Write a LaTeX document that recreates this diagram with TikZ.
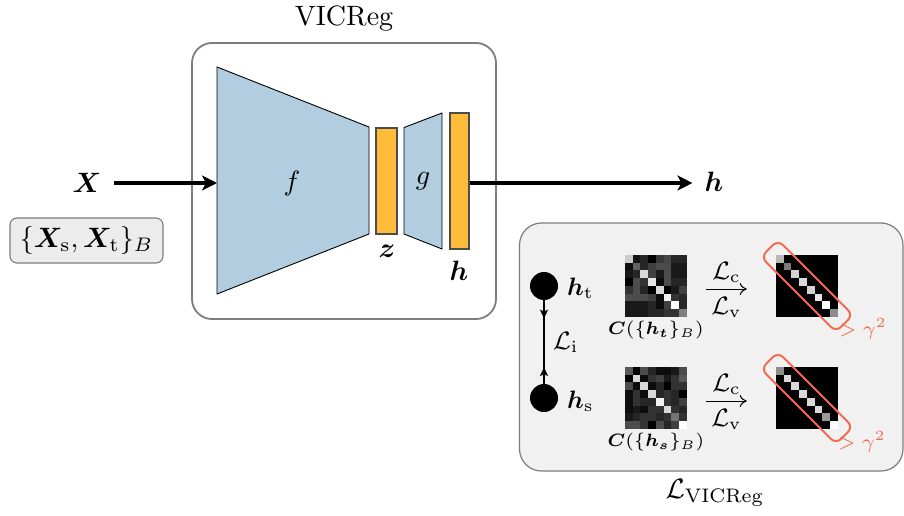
\RequirePackage{fix-cm}
\documentclass[tikz,border=0pt]{standalone}
\usepackage{amsmath,bm,graphicx}
\usetikzlibrary{arrows.meta,decorations.markings}

\definecolor{netblue}{RGB}{179,205,224}
\definecolor{featyellow}{RGB}{254,188,58}
\definecolor{framegray}{RGB}{125,125,125}
\definecolor{lossbg}{RGB}{241,241,241}
\definecolor{setbg}{RGB}{236,236,236}
\definecolor{hinge}{RGB}{242,108,80}

% text set at a base size and magnified with the drawing
\newcommand\sx[2][10]{\scalebox{2.8}{\fontsize{#1}{#1}\selectfont #2}}

% 8x8 grey-level matrix: #1 = top-left corner, #2 = rows of white percentages
\newcommand\graymatrix[2]{%
  \begin{scope}[shift={(#1)}]
    \foreach \row [count=\r from 0] in {#2} {
      \foreach \v [count=\c from 0] in \row {
        \fill[white!\v!black] (\c*7.75,\r*7.75) rectangle ++(7.8,7.8);
      }
    }
  \end{scope}}

\begin{document}
\begin{tikzpicture}[x=1pt,y=-1pt,
  every node/.style={inner sep=0},
  frame/.style={draw=framegray,line width=1.8},
  net/.style={draw=black,fill=netblue,line width=0.9},
  feat/.style={draw=black!70,fill=featyellow,line width=1.1,minimum width=#1},
  flow/.style={line width=3.2,-{Stealth[length=15,width=15,inset=4]}},
  mat/.style={minimum size=62},
  dot/.style={circle,fill=black,minimum size=28},
  hingebox/.style={draw=hinge,line width=2,rounded corners=7,rotate=-45,
    minimum width=106,minimum height=24},
  mapto/.style={line width=1,-{To[length=7,width=12]}},
  idlink/.style={line width=1.3,decoration={markings,
      mark=at position 0.22 with {\arrow{Stealth[length=9,width=8,inset=2]}},
      mark=at position 0.80 with {\arrowreversed{Stealth[length=9,width=8,inset=2]}}},
    postaction={decorate}}]

\useasboundingbox (0,0) rectangle (904,516);

% ---------------- encoder / projector ----------------
\draw[frame,rounded corners=20] (192,43) rectangle (496,319);
\node (title) at (344,19) {\sx{VICReg}};

\draw[net] (217,67) -- (369,127) -- (369,234) -- (217,294) -- cycle;
\coordinate (fin) at (217,183);
\node (flab) at (292,183) {\sx{$f$}};

\node[feat=21,minimum height=106] (zbar) at (386.5,181) {};
\node (zlab) at (387,251) {\sx{$\bm{z}$}};

\draw[net] (404,127.5) -- (442,113) -- (442,249) -- (404,234) -- cycle;
\node (glab) at (423,181) {\sx{$g$}};

\node[feat=19,minimum height=136] (hbar) at (459.5,181) {};
\node (hblab) at (459,271) {\sx{$\bm{h}$}};

\node (X) at (87,183) {\sx{$\bm{X}$}};
\node (hout) at (714,182) {\sx{$\bm{h}$}};
\draw[flow] (X.east) ++(12,0) -- (fin);
\draw[flow] (hbar.east |- fin) -- ([xshift=-12]hout.west |- fin);

\node[draw=framegray,fill=setbg,line width=1.1,rounded corners=7,
  minimum width=153,minimum height=45] (set) at (86.5,240.5)
  {\sx{$\{\bm{X}_\mathrm{s},\bm{X}_\mathrm{t}\}_B$}};

% ---------------- loss ----------------
\draw[draw=framegray,fill=lossbg,line width=1.2,rounded corners=22]
  (519.5,223) rectangle (903,471);
\node (losslab) at (715,493) {\sx{$\mathcal{L}_\mathrm{VICReg}$}};

\node[dot] (ht) at (544,286) {};
\node[dot] (hs) at (544,398) {};
\node[anchor=west] (htlab) at (567,288) {\sx[9]{$\bm{h}_\mathrm{t}$}};
\node[anchor=west] (hslab) at (567,401) {\sx[9]{$\bm{h}_\mathrm{s}$}};
\draw[idlink] (ht.south) -- (hs.north);
\node[anchor=west] (Li) at (553,342) {\sx[9]{$\mathcal{L}_\mathrm{i}$}};

% correlation matrices
\node[mat] (ct) at (656,286) {};
\node[mat] (cs) at (656,398) {};
\node[mat] (rt) at (807,286) {};
\node[mat] (rs) at (807,398) {};

\graymatrix{ct.north west}{
  {80,8,15,0,22,28,15,15},
  {5,38,15,25,30,30,10,10},
  {10,15,85,25,10,30,10,10},
  {0,30,20,90,5,30,15,15},
  {20,30,15,0,85,0,10,25},
  {30,30,30,25,5,95,20,15},
  {10,10,10,15,5,25,100,15},
  {10,10,10,15,15,20,20,50}}
\graymatrix{cs.north west}{
  {35,0,30,15,5,5,10,30},
  {0,85,5,20,25,10,20,35},
  {30,5,85,5,15,0,20,20},
  {5,20,5,85,15,20,15,0},
  {5,20,15,15,95,20,15,25},
  {5,10,5,20,20,85,20,15},
  {10,15,20,20,15,20,45,20},
  {30,30,20,0,30,15,25,100}}
\graymatrix{rt.north west}{
  {72,0,0,0,0,0,0,0},
  {0,48,0,0,0,0,0,0},
  {0,0,82,0,0,0,0,0},
  {0,0,0,85,0,0,0,0},
  {0,0,0,0,82,0,0,0},
  {0,0,0,0,0,90,0,0},
  {0,0,0,0,0,0,100,0},
  {0,0,0,0,0,0,0,55}}
\graymatrix{rs.north west}{
  {55,0,0,0,0,0,0,0},
  {0,85,0,0,0,0,0,0},
  {0,0,85,0,0,0,0,0},
  {0,0,0,85,0,0,0,0},
  {0,0,0,0,85,0,0,0},
  {0,0,0,0,0,85,0,0},
  {0,0,0,0,0,0,60,0},
  {0,0,0,0,0,0,0,100}}

\node (ctlab) at (656,330) {\sx[6.4]{$\bm{C}(\{\bm{h_t}\}_B)$}};
\node (cslab) at (656,442) {\sx[6.4]{$\bm{C}(\{\bm{h_s}\}_B)$}};

\draw[mapto] ([xshift=19,yshift=-3]ct.east) -- ([xshift=-29,yshift=-3]rt.west)
  node[midway,above=6pt] {\sx[9]{$\mathcal{L}_\mathrm{c}$}}
  node[midway,below=8pt] {\sx[9]{$\mathcal{L}_\mathrm{v}$}};
\draw[mapto] ([xshift=19,yshift=-3]cs.east) -- ([xshift=-29,yshift=-3]rs.west)
  node[midway,above=6pt] {\sx[9]{$\mathcal{L}_\mathrm{c}$}}
  node[midway,below=8pt] {\sx[9]{$\mathcal{L}_\mathrm{v}$}};

\node[hingebox] (bt) at (rt.center) {};
\node[hingebox] (bs) at (rs.center) {};
\node (gt) at (863,329) {\sx[7]{\color{hinge}$>\gamma^2$}};
\node (gs) at (862,442) {\sx[7]{\color{hinge}$>\gamma^2$}};

\end{tikzpicture}
\end{document}
